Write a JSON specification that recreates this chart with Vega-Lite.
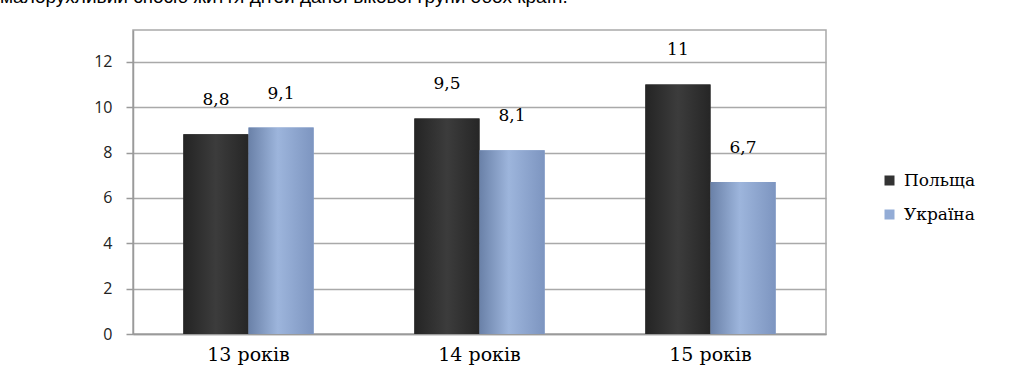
{
  "$schema": "https://vega.github.io/schema/vega-lite/v6.json",
  "autosize": {"type": "none"},
  "width": 693,
  "height": 304,
  "padding": {"left": 133, "top": 30, "right": 207, "bottom": 53},
  "background": "white",
  "title": {
    "text": "малорухливий спосіб життя дітей даної вікової групи обох країн.",
    "anchor": "start",
    "frame": "group",
    "dx": -133,
    "dy": -8,
    "offset": 0,
    "baseline": "alphabetic",
    "font": "Liberation Sans",
    "fontSize": 19,
    "fontWeight": "normal",
    "color": "#000000"
  },
  "data": {
    "values": [
      {"age": "13 років", "country": "Польща", "value": 8.8, "label": "8,8"},
      {"age": "13 років", "country": "Україна", "value": 9.1, "label": "9,1"},
      {"age": "14 років", "country": "Польща", "value": 9.5, "label": "9,5"},
      {"age": "14 років", "country": "Україна", "value": 8.1, "label": "8,1"},
      {"age": "15 років", "country": "Польща", "value": 11, "label": "11"},
      {"age": "15 років", "country": "Україна", "value": 6.7, "label": "6,7"}
    ]
  },
  "encoding": {
    "x": {
      "field": "age",
      "type": "nominal",
      "sort": null,
      "scale": {"paddingInner": 0.436, "paddingOuter": 0.218},
      "axis": {
        "title": null,
        "labelAngle": 0,
        "ticks": false,
        "domainColor": "#9a9a9a",
        "domainWidth": 1.5,
        "labelFont": "DejaVu Serif",
        "labelFontSize": 19,
        "labelColor": "#000000",
        "labelPadding": 11
      }
    },
    "xOffset": {"field": "country", "type": "nominal", "sort": ["Польща", "Україна"], "scale": {"paddingInner": 0, "paddingOuter": 0}},
    "y": {
      "field": "value",
      "type": "quantitative",
      "scale": {"domain": [0, 13.4], "nice": false},
      "axis": {
        "title": null,
        "values": [0, 2, 4, 6, 8, 10, 12],
        "grid": true,
        "gridColor": "#a9a9a9",
        "gridWidth": 1.5,
        "domainColor": "#9a9a9a",
        "domainWidth": 1.5,
        "tickColor": "#9a9a9a",
        "tickSize": 7,
        "tickWidth": 1.5,
        "labelFont": "Open Sans",
        "labelFontSize": 16,
        "labelColor": "#222222",
        "labelPadding": 14
      }
    }
  },
  "layer": [
    {
      "mark": {"type": "bar"},
      "encoding": {
        "color": {
          "field": "country",
          "type": "nominal",
          "sort": ["Польща", "Україна"],
          "scale": {"domain": ["Польща", "Україна"], "range": ["#333333", "#93acd6"]},
          "legend": {
            "title": null,
            "orient": "none",
            "legendX": 748,
            "legendY": 142,
            "symbolType": "square",
            "symbolSize": 100,
            "symbolStrokeWidth": 0,
            "labelFont": "DejaVu Serif",
            "labelFontSize": 17,
            "labelColor": "#000000",
            "labelOffset": 6,
            "rowPadding": 16
          }
        }
      }
    },
    {
      "transform": [{"filter": "datum.country === 'Польща'"}],
      "mark": {
        "type": "bar",
        "fill": {
          "gradient": "linear", "x1": 0, "y1": 0, "x2": 1, "y2": 0,
          "stops": [
            {"offset": 0, "color": "#242424"},
            {"offset": 0.5, "color": "#3c3c3c"},
            {"offset": 1, "color": "#262626"}
          ]
        }
      }
    },
    {
      "transform": [{"filter": "datum.country === 'Україна'"}],
      "mark": {
        "type": "bar",
        "fill": {
          "gradient": "linear", "x1": 0, "y1": 0, "x2": 1, "y2": 0,
          "stops": [
            {"offset": 0, "color": "#6a81a8"},
            {"offset": 0.45, "color": "#9db5dc"},
            {"offset": 1, "color": "#7d95c0"}
          ]
        }
      }
    },
    {
      "mark": {
        "type": "text",
        "baseline": "middle",
        "dy": -34,
        "font": "DejaVu Serif",
        "fontSize": 17,
        "color": "#000000"
      },
      "encoding": {"text": {"field": "label"}}
    }
  ],
  "config": {
    "view": {"stroke": "#a9a9a9", "strokeWidth": 1.5}
  }
}
